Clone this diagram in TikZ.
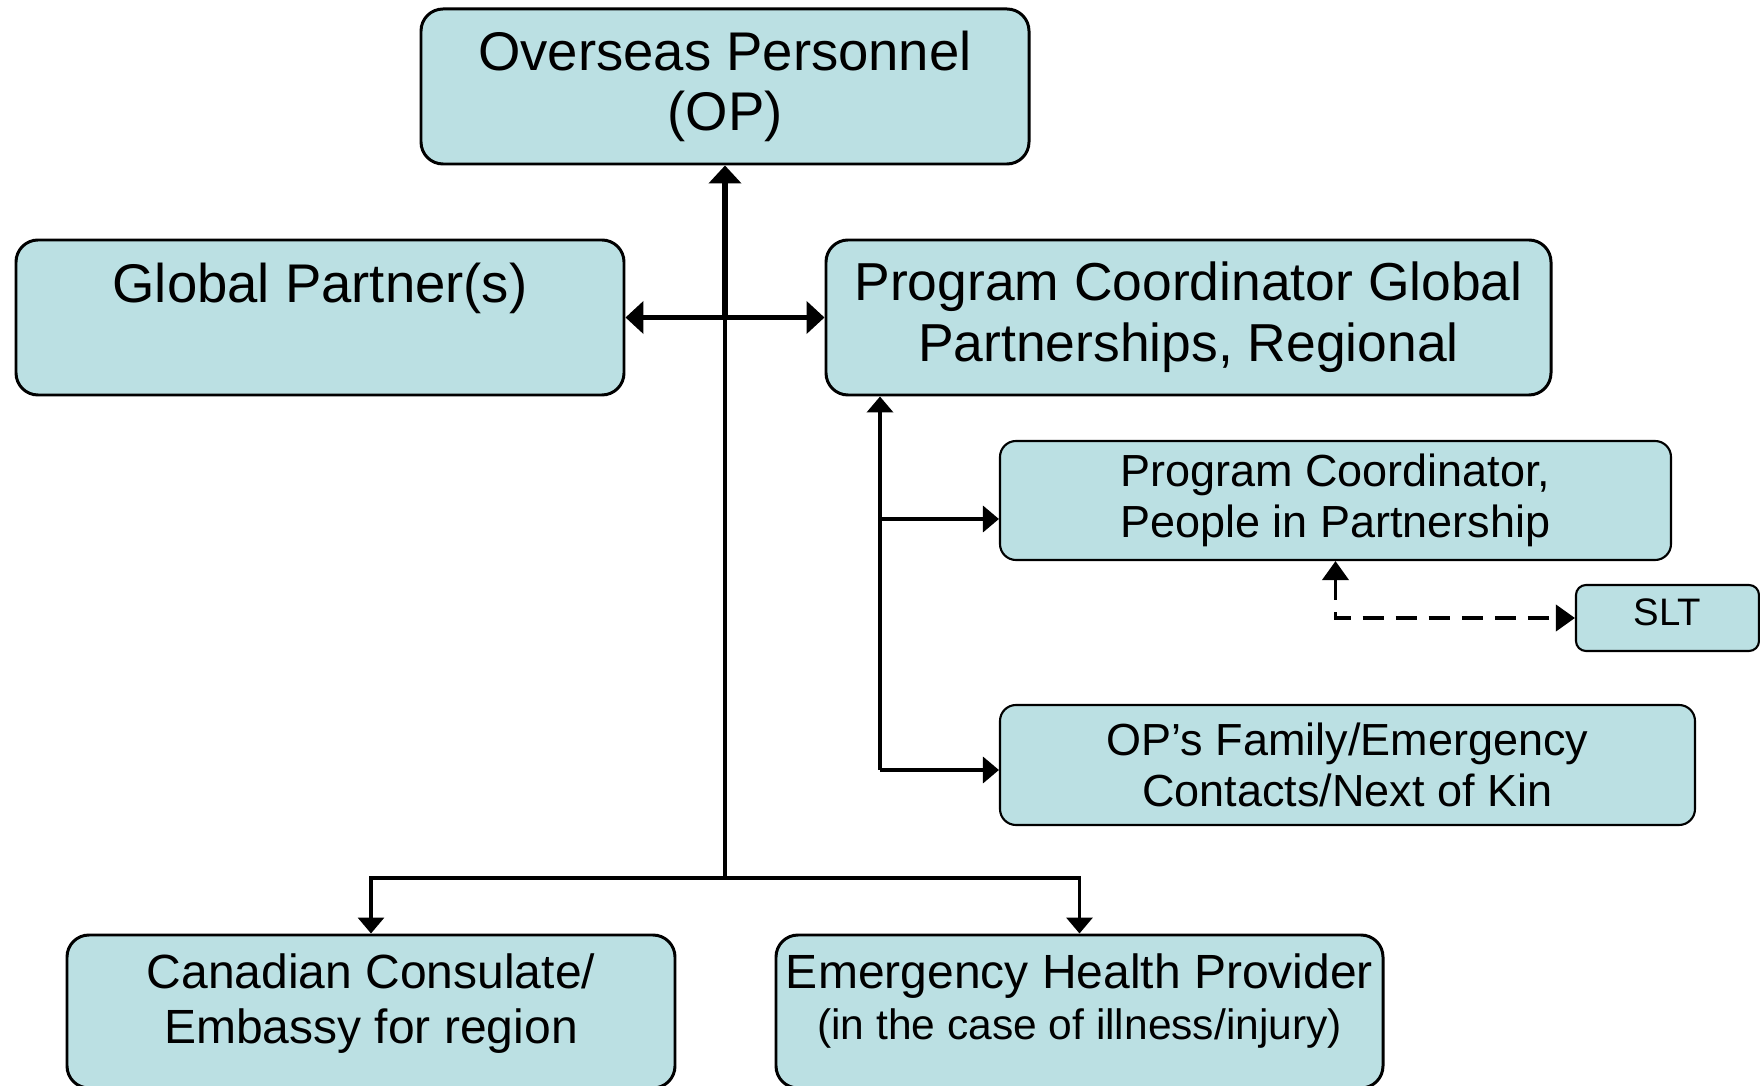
\documentclass[tikz,border=0pt]{standalone}
\usepackage{fontspec}
\setmainfont{Liberation Sans}
\usetikzlibrary{arrows.meta}
\definecolor{boxfill}{RGB}{187,224,227}

\begin{document}
\begin{tikzpicture}[
    bigbox/.style={draw, line width=0.85pt, fill=boxfill, rounded corners=0.22cm,
      align=center, inner sep=0pt, font=\fontsize{15.5}{17.3}\selectfont},
    smallbox/.style={draw, line width=0.6pt, fill=boxfill, rounded corners=0.16cm,
      align=center, inner sep=0pt, font=\fontsize{12.8}{14.6}\selectfont},
    conn/.style={line width=1pt, >={Triangle[length=0.16cm,width=0.26cm]}},
    fat/.style={line width=1.7pt, >={Triangle[length=0.18cm,width=0.32cm]}},
    dsh/.style={line width=1.1pt, dash pattern=on 6pt off 3.4pt,
      >={Triangle[length=0.19cm,width=0.26cm]}}]
  \useasboundingbox (0,0) rectangle (17.6,-10.86);

  \node[bigbox, minimum width=6.08cm, minimum height=1.55cm] (OP) at (7.25,-0.865)
    {Overseas Personnel\\(OP)};
  \node[bigbox, minimum width=6.08cm, minimum height=1.55cm, text depth=0.7cm] (GP) at (3.20,-3.175)
    {Global Partner(s)};
  \node[bigbox, minimum width=7.25cm, minimum height=1.55cm, font=\fontsize{15.2}{17.3}\selectfont]
    (PCG) at (11.885,-3.175) {Program Coordinator Global\\Partnerships, Regional};
  \node[smallbox, minimum width=6.71cm, minimum height=1.19cm] (PCP) at (13.355,-5.005)
    {Program Coordinator,\\People in Partnership};
  \node[smallbox, rounded corners=0.1cm, minimum width=1.83cm, minimum height=0.66cm,
    text depth=0.12cm, font=\fontsize{10.9}{12}\selectfont] (SLT) at (16.675,-6.18) {SLT};
  \node[smallbox, minimum width=6.95cm, minimum height=1.20cm] (FAM) at (13.475,-7.65)
    {OP’s Family/Emergency\\Contacts/Next of Kin};
  \node[bigbox, minimum width=6.08cm, minimum height=1.53cm, text depth=0.25cm,
    font=\fontsize{13.66}{15.6}\selectfont] (EMB) at (3.71,-10.115)
    {Canadian Consulate/\\Embassy for region};
  \node[bigbox, minimum width=6.07cm, minimum height=1.53cm, text depth=0.29cm,
    font=\fontsize{13.66}{14.5}\selectfont] (EHP) at (10.795,-10.115)
    {Emergency Health Provider\\{\fontsize{12.1}{14.5}\selectfont(in the case of illness/injury)}};

  \coordinate (M) at (OP.south |- GP.east);
  \coordinate (B) at (7.25,-8.78);
  \coordinate (J1) at (8.80,-5.19);
  \coordinate (J2) at (8.80,-7.70);

  \draw[fat, <->] (GP.east) -- (PCG.west);
  \draw[fat, ->] (M) -- (OP.south);
  \draw[conn, line width=1.1pt] (B) -- (M);
  \draw[conn, ->] (B) -| (EMB.north);
  \draw[conn, ->] (B) -| (EHP.north);
  \draw[conn, line width=1.1pt, ->] (J2) -- (J2 |- PCG.south);
  \draw[conn, ->] (J1) -- (J1 -| PCP.west);
  \draw[conn, ->] (J2) -- (J2 -| FAM.west);
  \draw[dsh, <->] (PCP.south) |- (SLT.west);
\end{tikzpicture}
\end{document}
